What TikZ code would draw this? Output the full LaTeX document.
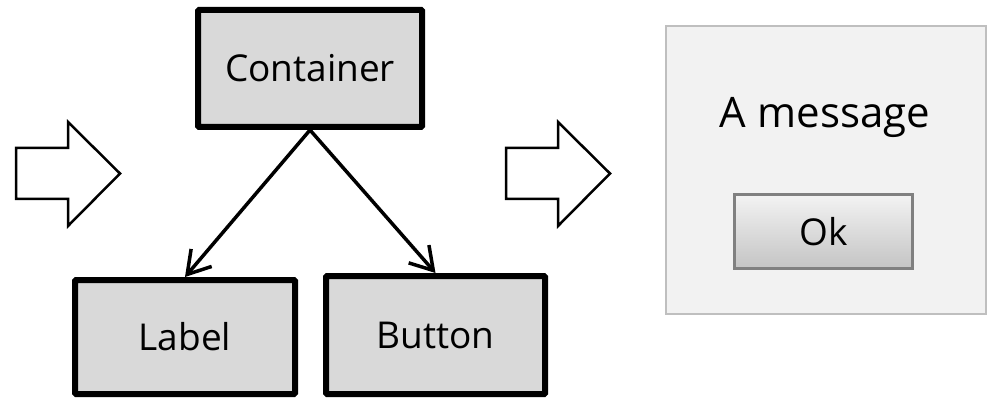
\documentclass[tikz,border=0pt]{standalone}
\usepackage{fontspec}
\setmainfont{Open Sans}
\usepackage{xcolor}
\usetikzlibrary{arrows.meta, positioning}

\definecolor{boxgray}{HTML}{D9D9D9}
\definecolor{dlgfill}{HTML}{F2F2F2}
\definecolor{dlgline}{HTML}{BFBFBF}
\definecolor{btnline}{HTML}{808080}
\definecolor{btntop}{HTML}{F3F3F3}
\definecolor{btnbot}{HTML}{C4C4C4}

\begin{document}
\begin{tikzpicture}[x=1pt, y=-1pt,
    widget/.style={draw=black, line width=6pt, fill=boxgray, rounded corners=1pt,
        font=\fontsize{37}{44}\selectfont, inner sep=0pt},
    conn/.style={line width=3.5pt, -{Straight Barb[length=22pt, width=27pt]}},
    bigarrow/.style={draw=black, line width=2.5pt, fill=white, line join=miter}]

    \useasboundingbox (0, 0) rectangle (990, 398);

    % widget tree
    \node[widget, minimum width=224pt, minimum height=117pt] (cont) at (310, 68.5) {Container};
    \node[widget, minimum width=220pt, minimum height=114pt] (lab) at (185, 337) {Label};
    \node[widget, minimum width=219pt, minimum height=118pt] (btn) at (435.5, 335) {Button};
    \draw[conn] (cont.south) -- (lab.north);
    \draw[conn] (cont.south) -- (btn.north);

    % outline arrows
    \draw[bigarrow] (16, 148) -- (68, 148) -- (68, 122) -- (120, 173.5)
        -- (68, 226) -- (68, 199) -- (16, 199) -- cycle;
    \draw[bigarrow] (506, 148) -- (558, 148) -- (558, 122) -- (610, 173.5)
        -- (558, 226) -- (558, 199) -- (506, 199) -- cycle;

    % rendered dialog
    \node[draw=dlgline, line width=2pt, fill=dlgfill, minimum width=320pt,
        minimum height=288pt, inner sep=0pt] (dlg) at (826, 170) {};
    \node[anchor=base, font=\fontsize{42}{50}\selectfont, inner sep=0pt] (msg) at (825, 128) {A message};
    \node[draw=btnline, line width=3pt, top color=btntop, bottom color=btnbot,
        minimum width=178pt, minimum height=74pt, inner sep=0pt,
        font=\fontsize{37}{44}\selectfont] (ok) at (823.5, 231.5) {Ok};

\end{tikzpicture}
\end{document}
